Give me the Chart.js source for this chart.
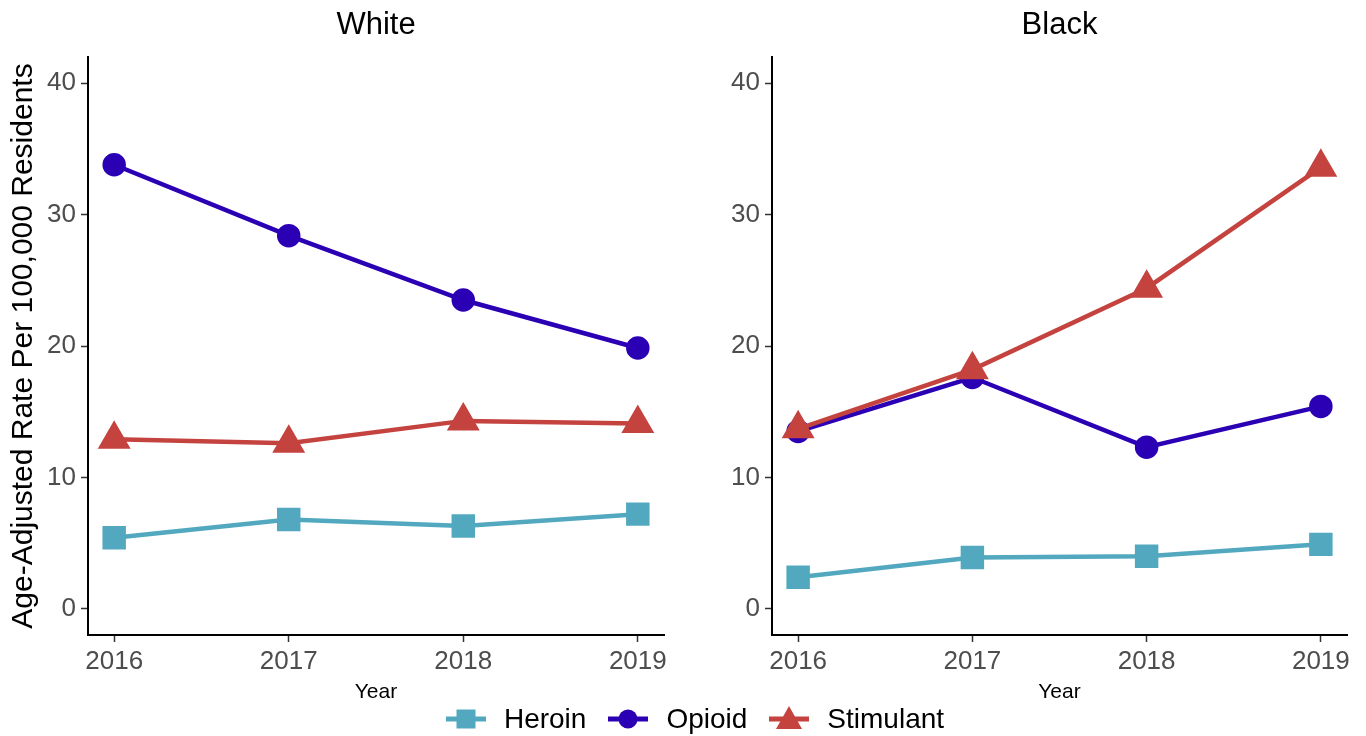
<!DOCTYPE html>
<html>
<head>
<meta charset="utf-8">
<script src="https://cdn.jsdelivr.net/npm/chart.js@4/dist/chart.umd.min.js"></script>
<style>
  body { margin: 0; background: #fff; font-family: "Liberation Sans", Arial, sans-serif; }
  #wrap { position: relative; width: 1366px; height: 736px; }
  canvas { position: absolute; top: 0; }
  #legend { position: absolute; left: 12px; top: 701px; width: 1366px; height: 36px;
            display: flex; justify-content: center; align-items: center; font-size: 28px; color: #000; }
  .item { display: flex; align-items: center; margin: 0 11px; }
  .item svg { margin-right: 18px; }
</style>
</head>
<body>
<div id="wrap">
  <canvas id="whiteChart" width="683" height="705" style="left:0"></canvas>
  <canvas id="blackChart" width="683" height="705" style="left:683px"></canvas>
  <div id="legend">
    <div class="item">
      <svg width="40" height="30"><line x1="0" y1="15" x2="40" y2="15" stroke="#52A9BF" stroke-width="5"/><rect x="10.5" y="5.5" width="19" height="19" fill="#52A9BF"/></svg>
      <span>Heroin</span>
    </div>
    <div class="item">
      <svg width="40" height="30"><line x1="0" y1="15" x2="40" y2="15" stroke="#2B00B5" stroke-width="5"/><circle cx="20" cy="15" r="9.5" fill="#2B00B5"/></svg>
      <span>Opioid</span>
    </div>
    <div class="item">
      <svg width="40" height="30"><line x1="0" y1="15" x2="40" y2="15" stroke="#C4433F" stroke-width="5"/><polygon points="20,2 33,25 7,25" fill="#C4433F"/></svg>
      <span>Stimulant</span>
    </div>
  </div>
</div>
<script>
const years = [2016, 2017, 2018, 2019];
const yTicks = [0, 10, 20, 30, 40];

// White
const whiteHeroin = [5.4, 6.8, 6.3, 7.2];
const whiteOpioid = [33.8, 28.4, 23.5, 19.85];
const whiteStimulant = [12.9, 12.6, 14.3, 14.1];

// Black
const blackHeroin = [2.4, 3.9, 4.0, 4.9];
const blackOpioid = [13.5, 17.6, 12.3, 15.4];
const blackStimulant = [13.7, 18.2, 24.4, 33.6];

const tickGrey = '#4D4D4D';

const panelTitle = {
    id: 'panelTitle',
    afterDraw(chart, args, opts) {
        const ctx = chart.ctx;
        const area = chart.chartArea;
        ctx.save();
        ctx.fillStyle = '#000';
        ctx.font = '31px "Liberation Sans", Arial, sans-serif';
        ctx.textAlign = 'center';
        ctx.textBaseline = 'middle';
        ctx.fillText(opts.text, (area.left + area.right) / 2, 25);
        ctx.restore();
    }
};

function points(values) {
    return years.map((yr, i) => ({ x: yr, y: values[i] }));
}

function makePanel(id, title, heroin, opioid, stimulant, yWidth, padRight, showYTitle) {
    const ctx = document.getElementById(id).getContext('2d');
    return new Chart(ctx, {
        type: 'line',
        data: {
            datasets: [{
                label: 'Heroin',
                data: points(heroin),
                borderColor: '#52A9BF',
                backgroundColor: '#52A9BF',
                pointStyle: 'rect',
                pointRadius: 13.4,
                borderWidth: 4.5,
                order: 2
            }, {
                label: 'Opioid',
                data: points(opioid),
                borderColor: '#2B00B5',
                backgroundColor: '#2B00B5',
                pointStyle: 'circle',
                pointRadius: 9.5,
                borderWidth: 4.5,
                order: 1
            }, {
                label: 'Stimulant',
                data: points(stimulant),
                borderColor: '#C4433F',
                backgroundColor: '#C4433F',
                pointStyle: 'triangle',
                pointRadius: 14.5,
                borderWidth: 4.5,
                order: 0
            }]
        },
        options: {
            responsive: false,
            animation: false,
            devicePixelRatio: 1,
            layout: { padding: { top: 57, right: padRight, left: 0, bottom: 0 } },
            elements: { point: { borderWidth: 0, hoverRadius: 10 } },
            scales: {
                x: {
                    type: 'linear',
                    min: 2015.85,
                    max: 2019.15,
                    afterBuildTicks: (scale) => { scale.ticks = years.map(v => ({ value: v })); },
                    afterFit: (scale) => { scale.height = 70; },
                    ticks: {
                        color: tickGrey,
                        font: { size: 26, family: '"Liberation Sans", Arial' },
                        padding: 4,
                        maxRotation: 0,
                        callback: (v) => String(v)
                    },
                    grid: { drawOnChartArea: false, drawTicks: true, tickLength: 7, tickColor: '#333', tickWidth: 1.5 },
                    border: { color: '#000', width: 2 },
                    title: {
                        display: true,
                        text: 'Year',
                        color: '#000',
                        font: { size: 21, family: '"Liberation Sans", Arial' },
                        padding: { top: 0, bottom: 0 }
                    }
                },
                y: {
                    min: -2,
                    max: 42,
                    afterBuildTicks: (scale) => { scale.ticks = yTicks.map(v => ({ value: v })); },
                    afterFit: (scale) => { scale.width = yWidth; },
                    ticks: {
                        color: tickGrey,
                        font: { size: 26, family: '"Liberation Sans", Arial' },
                        padding: 5
                    },
                    grid: { drawOnChartArea: false, drawTicks: true, tickLength: 7, tickColor: '#333', tickWidth: 1.5 },
                    border: { color: '#000', width: 2 },
                    title: {
                        display: showYTitle,
                        text: 'Age-Adjusted Rate Per 100,000 Residents',
                        color: '#000',
                        font: { size: 30, family: '"Liberation Sans", Arial' },
                        padding: { top: 6, bottom: 0 }
                    }
                }
            },
            plugins: {
                legend: { display: false },
                tooltip: { enabled: false },
                panelTitle: { text: title }
            }
        },
        plugins: [panelTitle]
    });
}

makePanel('whiteChart', 'White', whiteHeroin, whiteOpioid, whiteStimulant, 88, 17, true);
makePanel('blackChart', 'Black', blackHeroin, blackOpioid, blackStimulant, 89, 15, false);
</script>
</body>
</html>
